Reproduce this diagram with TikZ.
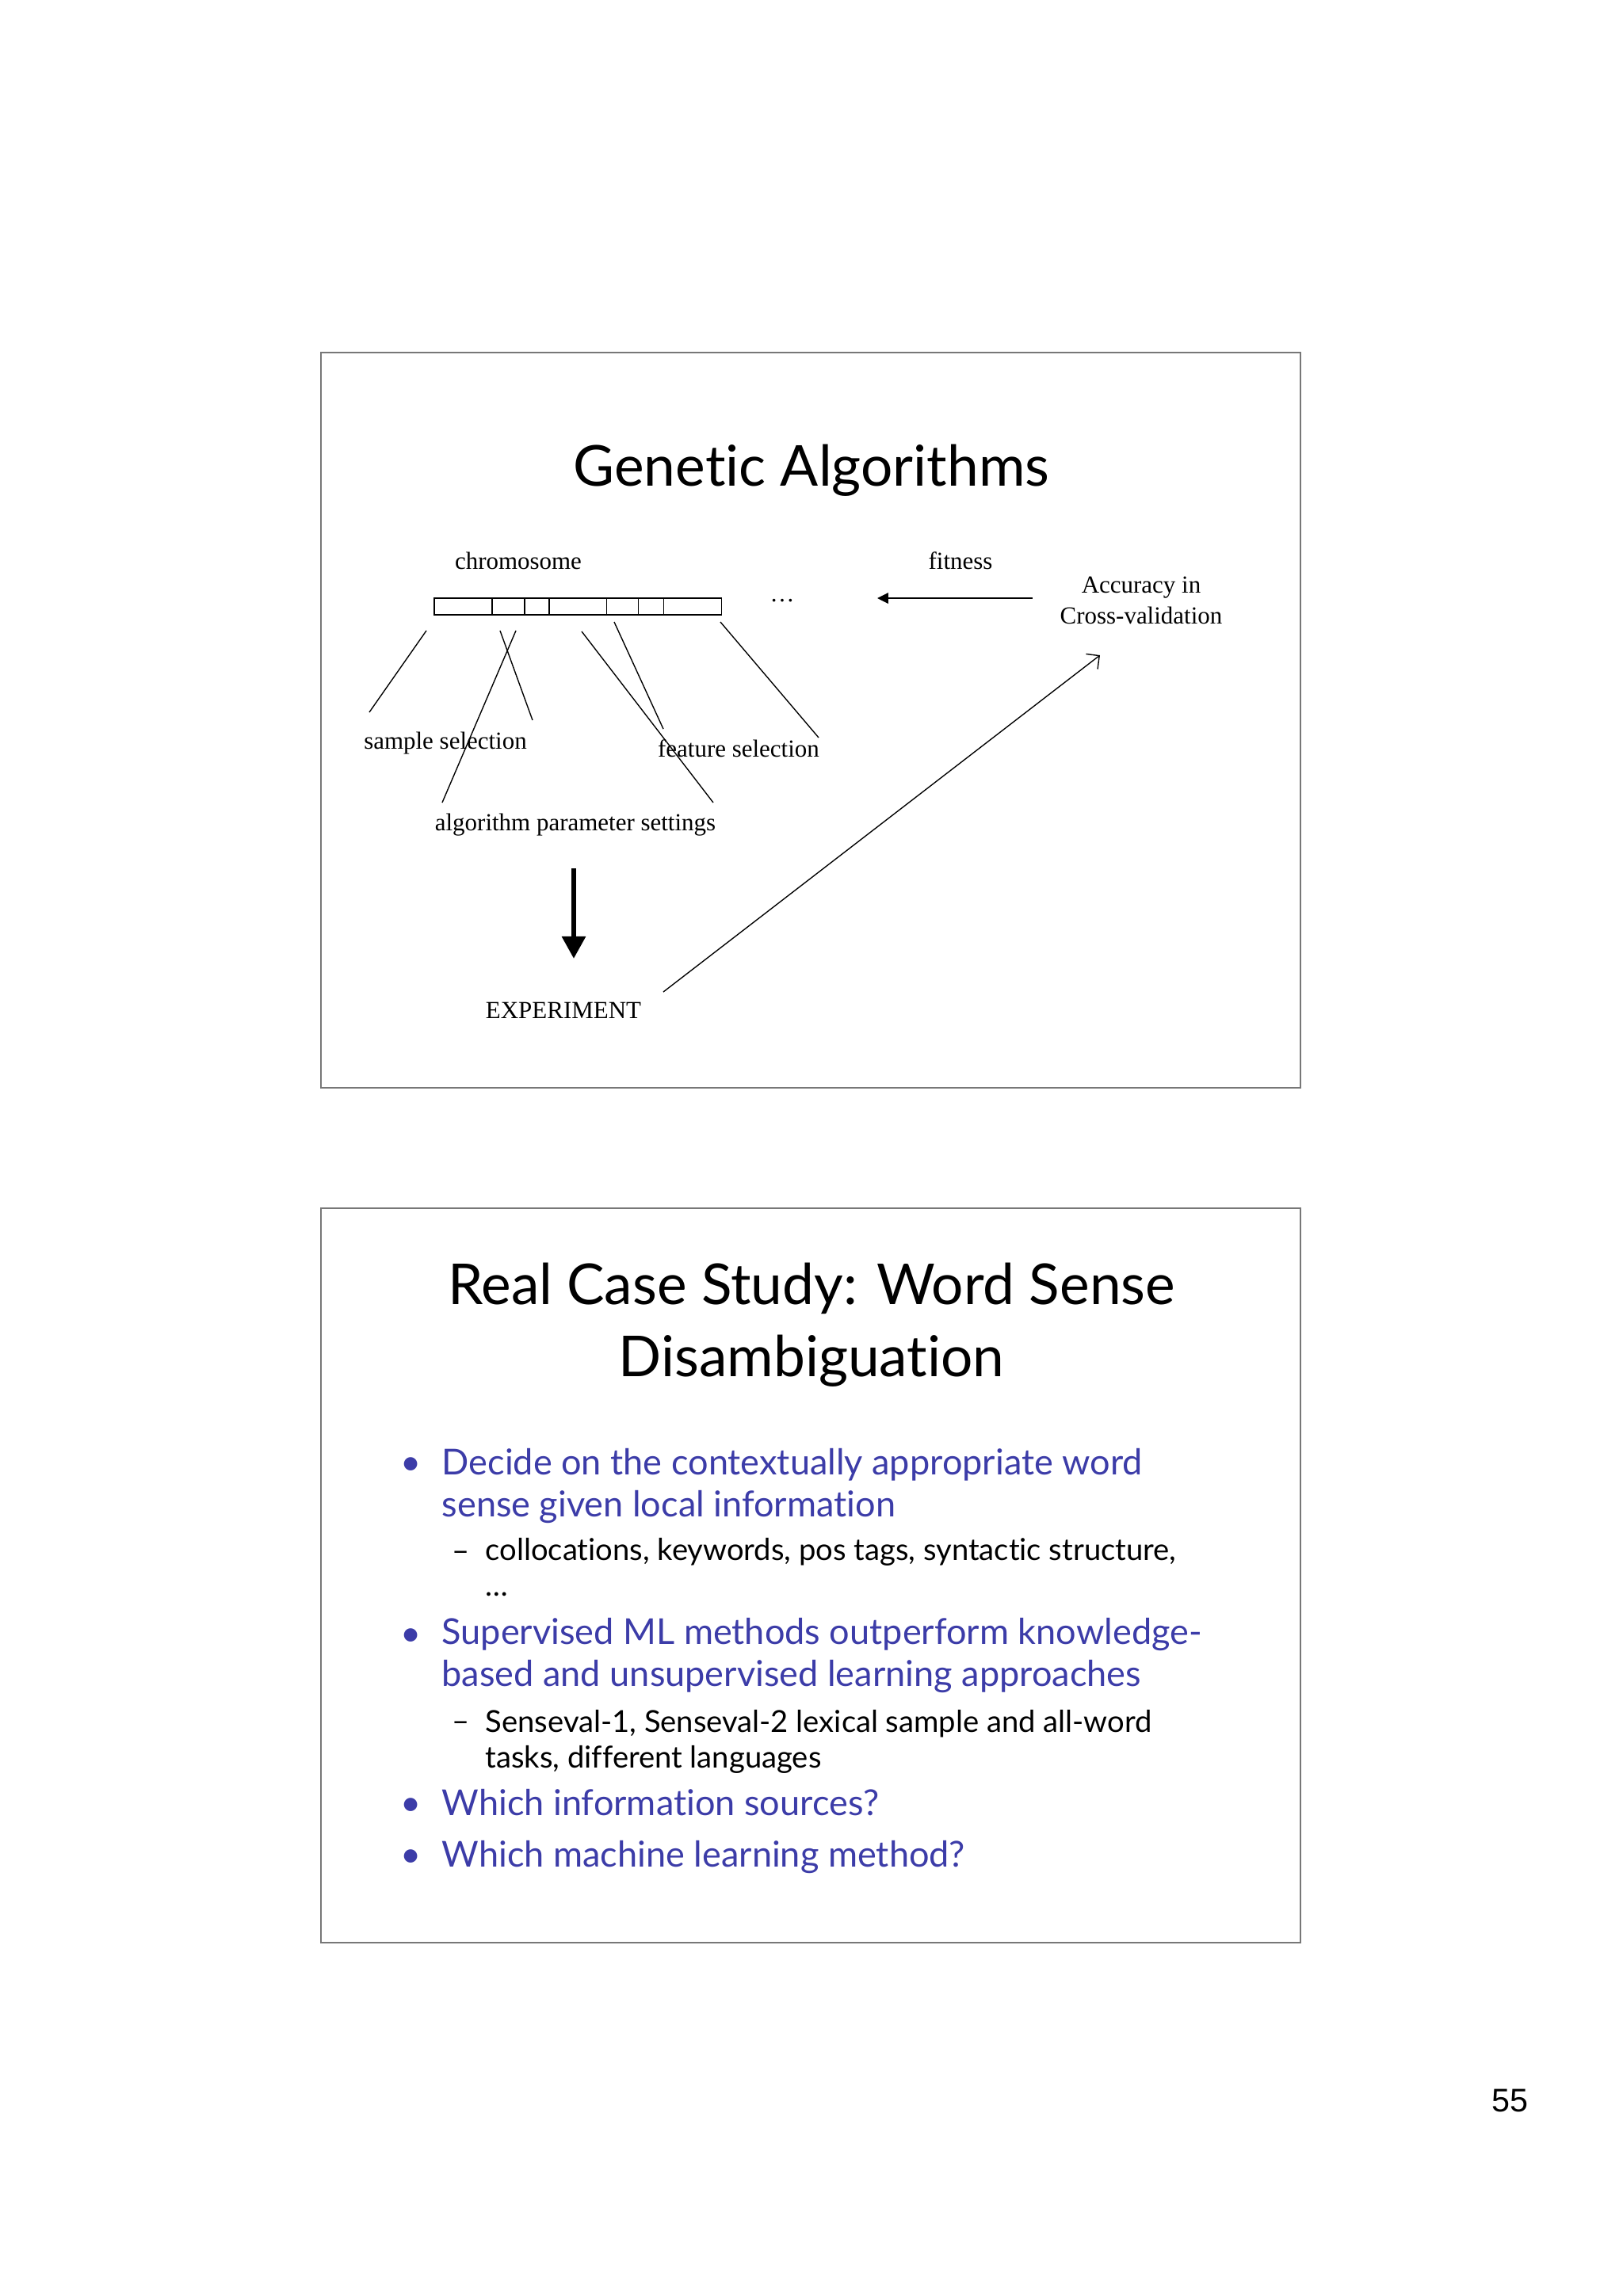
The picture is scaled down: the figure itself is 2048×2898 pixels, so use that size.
\documentclass[tikz,border=0pt]{standalone}
\usepackage{fontspec}
\setmainfont{Liberation Serif}
\newfontfamily\gillfont[Ligatures=NoCommon]{Lato}
\newfontfamily\arialfont{Liberation Sans}
\usepackage{tikz}
\usetikzlibrary{arrows.meta,positioning}
\definecolor{framegray}{HTML}{777777}
\definecolor{bulblue}{HTML}{3C3CA8}

\begin{document}
\begin{tikzpicture}[x=0.2907pt,y=-0.2907pt,
    slide/.style={draw=framegray, line width=0.45pt},
    gene/.style={rectangle, draw, line width=0.4pt, outer sep=0pt,
                 inner sep=0pt, minimum height=6.1pt},
    lbl/.style={font=\fontsize{9}{11.3}\selectfont, inner sep=0pt, anchor=base},
    ttl/.style={font=\gillfont\fontsize{20.7}{26}\selectfont, inner sep=0pt, anchor=base},
    bul/.style={font=\gillfont\fontsize{13.1}{15.4}\selectfont, text=bulblue,
                inner sep=0pt, anchor=base west, align=left},
    subbul/.style={font=\gillfont\fontsize{11.1}{13}\selectfont,
                   inner sep=0pt, anchor=base west, align=left},
    dot/.style={anchor=base},
    link/.style={line width=0.4pt},
]
\useasboundingbox (0,0) rectangle (2048,2898);

\draw[slide] (405,445) rectangle (1641,1373);
\draw[slide] (405,1525) rectangle (1641,2452);

\node[ttl] (gatitle) at (1024,613) {Genetic Algorithms};

\node[gene,minimum width=21.2pt,anchor=north west] (g1) at (548,755) {};
\node[gene,minimum width=11.9pt,right=0pt of g1] (g2) {};
\node[gene,minimum width=9.0pt,right=0pt of g2] (g3) {};
\node[gene,minimum width=21.2pt,right=0pt of g3] (g4) {};
\node[gene,minimum width=11.6pt,right=0pt of g4] (g5) {};
\node[gene,minimum width=9.3pt,right=0pt of g5] (g6) {};
\node[gene,minimum width=21.2pt,right=0pt of g6] (g7) {};

\node[lbl] (chrom) at (654,718) {chromosome};
\node[lbl] (dots) at (987,759) {\dots};
\node[lbl] (fit) at (1212,718) {fitness};
\node[lbl,align=center] (acc) at (1440,787) {Accuracy in\\Cross-validation};
\node[lbl] (sample) at (562,945) {sample selection};
\node[lbl] (feature) at (932,955) {feature selection};
\node[lbl] (param) at (726,1048) {algorithm parameter settings};
\node[lbl] (exper) at (711,1285) {EXPERIMENT};

\coordinate (sa1) at (538,796);  \coordinate (sa2) at (466,899);
\coordinate (sb1) at (631,796);  \coordinate (sb2) at (672,909);
\coordinate (pa1) at (651,796);  \coordinate (pa2) at (558,1013);
\coordinate (pb1) at (734,797);  \coordinate (pb2) at (900,1013);
\coordinate (fa1) at (775,785);  \coordinate (fa2) at (837,920);
\coordinate (fb1) at (909,785);  \coordinate (fb2) at (1033,931);
\coordinate (fitfrom) at (1303,755); \coordinate (fitto) at (1107,755);
\coordinate (runfrom) at (724,1096); \coordinate (runto) at (724,1210);
\coordinate (accfrom) at (837,1252); \coordinate (accto) at (1388,827);

\draw[link] (sa1) -- (sa2);
\draw[link] (sb1) -- (sb2);
\draw[link] (pa1) -- (pa2);
\draw[link] (pb1) -- (pb2);
\draw[link] (fa1) -- (fa2);
\draw[link] (fb1) -- (fb2);
\draw[link,-{Triangle[length=4pt,width=3.9pt]}] (fitfrom) -- (fitto);
\draw[line width=1.9pt,-{Triangle[length=8.2pt,width=8.4pt]}] (runfrom) -- (runto);
\draw[link,-{Straight Barb[length=3.5pt,width=7pt]}] (accfrom) -- (accto);

\node[ttl] (wsdtitle) at (1024,1646) {Real Case Study: Word Sense};
\node[ttl] (wsdtitle2) at (1024,1737) {Disambiguation};

\node[bul,dot] (m1) at (519,1861) {•};
\node[bul] (b1) at (557,1914) {Decide on the contextually appropriate word\\sense given local information};
\node[subbul,dot] (n1) at (582,1970) {–};
\node[subbul] (s1) at (612,2014) {collocations, keywords, pos tags, syntactic structure,\\\dots};
\node[bul,dot] (m2) at (519,2077) {•};
\node[bul] (b2) at (557,2128) {Supervised ML methods outperform knowledge-\\based and unsupervised learning approaches};
\node[subbul,dot] (n2) at (582,2185) {–};
\node[subbul] (s2) at (612,2231) {Senseval-1, Senseval-2 lexical sample and all-word\\tasks, different languages};
\node[bul,dot] (m3) at (519,2291) {•};
\node[bul] (b3) at (557,2291) {Which information sources?};
\node[bul,dot] (m4) at (519,2356) {•};
\node[bul] (b4) at (557,2356) {Which machine learning method?};

\node[anchor=base,font=\arialfont\fontsize{12}{14}\selectfont,inner sep=0pt] (pnum) at (1905,2665) {55};
\end{tikzpicture}
\end{document}
